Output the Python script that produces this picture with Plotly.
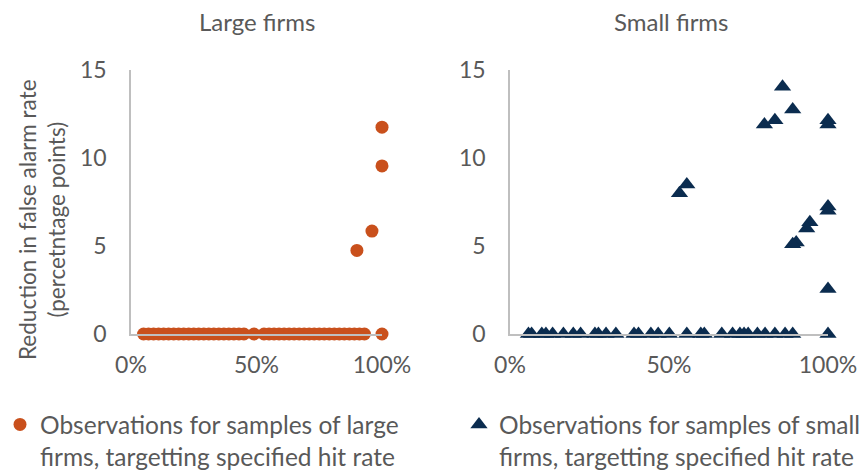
import plotly.graph_objects as go

# ---- data ----
large_hit_rate = [0.05, 0.07, 0.09, 0.11, 0.13, 0.15, 0.17, 0.19, 0.21, 0.23, 0.25,
                  0.27, 0.29, 0.31, 0.33, 0.35, 0.37, 0.39, 0.41, 0.43, 0.45, 0.49,
                  0.53, 0.55, 0.57, 0.59, 0.61, 0.63, 0.65, 0.67, 0.69, 0.71, 0.73,
                  0.75, 0.77, 0.79, 0.81, 0.83, 0.85, 0.87, 0.89, 0.91, 0.93, 1.00,
                  0.90, 0.96, 1.00, 1.00]
large_reduction = [0, 0, 0, 0, 0, 0, 0, 0, 0, 0, 0,
                   0, 0, 0, 0, 0, 0, 0, 0, 0, 0, 0,
                   0, 0, 0, 0, 0, 0, 0, 0, 0, 0, 0,
                   0, 0, 0, 0, 0, 0, 0, 0, 0, 0, 0,
                   4.75, 5.85, 9.55, 11.75]

small_hit_rate = [0.058, 0.068, 0.100, 0.113, 0.134, 0.168, 0.199, 0.222, 0.267, 0.278,
                  0.302, 0.333, 0.390, 0.404, 0.443, 0.466, 0.501, 0.556, 0.600, 0.611,
                  0.666, 0.700, 0.723, 0.736, 0.749, 0.778, 0.802, 0.833, 0.865, 0.889,
                  1.000,
                  0.857, 0.889, 0.833, 0.800, 1.000, 1.000, 0.556, 0.533, 1.000, 1.000,
                  0.943, 0.933, 0.900, 0.889, 1.000]
small_reduction = [0, 0, 0, 0, 0, 0, 0, 0, 0, 0,
                   0, 0, 0, 0, 0, 0, 0, 0, 0, 0,
                   0, 0, 0, 0, 0, 0, 0, 0, 0, 0,
                   0,
                   14.05, 12.75, 12.15, 11.9, 12.15, 11.9, 8.5, 8.0, 7.25, 7.0,
                   6.35, 6.0, 5.2, 5.1, 2.55]

x_ticks = [0, 0.5, 1.0]
y_ticks = [0, 5, 10, 15]

name_large = "Observations for samples of large<br>firms, targetting specified hit rate"
name_small = "Observations for samples of small<br>firms, targetting specified hit rate"

ORANGE = "#C9501C"
NAVY = "#0B2C4F"
GREY_TXT = "#595959"
AXIS = "#BFBFBF"
FONT = "Lato"
FS_TICK = 23
FS_TITLE = 24
FS_LEG = 24.5
FS_YT = 22.5

W, H = 864, 474


def px_x(p):
    return p / W


def px_y(p):
    return (H - p) / H


fig = go.Figure()
fig.add_trace(go.Scatter(
    x=large_hit_rate, y=large_reduction, mode="markers", name=name_large,
    marker=dict(symbol="circle", size=13, color=ORANGE),
    xaxis="x", yaxis="y", cliponaxis=False, legend="legend"))
fig.add_trace(go.Scatter(
    x=small_hit_rate, y=small_reduction, mode="markers", name=name_small,
    marker=dict(symbol="triangle-up", size=15, color=NAVY),
    xaxis="x2", yaxis="y2", cliponaxis=False, legend="legend2"))

xd1 = [px_x(131), px_x(382)]
xd2 = [px_x(510), px_x(828)]
yd = [px_y(334), px_y(70)]

xcommon = dict(range=[0, 1], tickvals=x_ticks, tickformat=".0%", showgrid=False,
               zeroline=False, showline=True, linecolor=AXIS, linewidth=1.5,
               ticks="", tickfont=dict(family=FONT, size=FS_TICK, color=GREY_TXT),
               ticklabelstandoff=10)
ycommon = dict(range=[0, 15], tickvals=y_ticks, showgrid=False, zeroline=False,
               showline=True, linecolor=AXIS, linewidth=1.5, ticks="",
               tickfont=dict(family=FONT, size=FS_TICK, color=GREY_TXT),
               ticklabelstandoff=18)

leg_font = dict(family=FONT, size=FS_LEG, color=GREY_TXT)
fig.update_layout(
    width=W, height=H,
    margin=dict(l=0, r=0, t=0, b=0, autoexpand=False),
    paper_bgcolor="white", plot_bgcolor="white",
    font=dict(family=FONT, size=FS_TICK, color=GREY_TXT),
    xaxis=dict(domain=xd1, anchor="y", **xcommon),
    yaxis=dict(domain=yd, anchor="x", **ycommon),
    xaxis2=dict(domain=xd2, anchor="y2", **xcommon),
    yaxis2=dict(domain=yd, anchor="x2", **ycommon),
    legend=dict(x=px_x(0), y=px_y(402), xanchor="left", yanchor="top",
                valign="top", font=leg_font, bgcolor="rgba(0,0,0,0)"),
    legend2=dict(x=px_x(459), y=px_y(402), xanchor="left", yanchor="top",
                 valign="top", font=leg_font, bgcolor="rgba(0,0,0,0)"),
    showlegend=True,
    annotations=[
        dict(text="Large firms", x=px_x(257), y=px_y(22), xref="paper", yref="paper",
             showarrow=False, xanchor="center", yanchor="middle",
             font=dict(family=FONT, size=FS_TITLE, color=GREY_TXT)),
        dict(text="Small firms", x=px_x(671), y=px_y(22), xref="paper", yref="paper",
             showarrow=False, xanchor="center", yanchor="middle",
             font=dict(family=FONT, size=FS_TITLE, color=GREY_TXT)),
        dict(text="Reduction in false alarm rate<br>(percetntage points)",
             x=px_x(42), y=px_y(220), xref="paper", yref="paper",
             showarrow=False, xanchor="center", yanchor="middle", textangle=-90,
             font=dict(family=FONT, size=FS_YT, color=GREY_TXT)),
    ],
)

# remove the default 8px page margin so the 864x474 figure fills the window
fig.write_html("out.html",
               config={"displayModeBar": False},
               post_script="document.body.style.margin='0';"
                           "document.body.style.overflow='hidden';")
